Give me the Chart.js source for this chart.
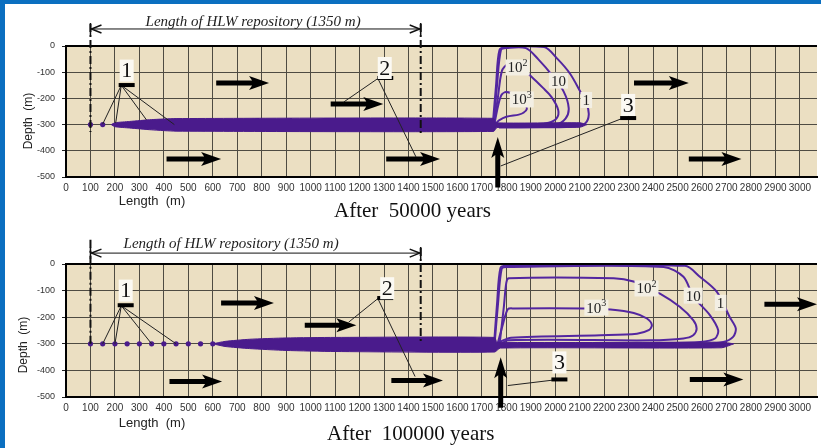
<!DOCTYPE html>
<html>
<head>
<meta charset="utf-8">
<script src="https://cdn.jsdelivr.net/npm/chart.js@4.4.0/dist/chart.umd.min.js"></script>
<style>
body{margin:0;background:#fff;width:821px;height:448px;overflow:hidden;position:relative}
canvas{position:absolute;left:0}
#c50{top:0}
#c100{top:222px}
.frameL{position:absolute;left:0;top:0;width:5px;height:448px;background:#0b6fc0;z-index:5}
.frameT{position:absolute;left:0;top:0;width:821px;height:4px;background:#0b6fc0;z-index:5}
.cap{position:absolute;font-family:"Liberation Serif",serif;font-size:21px;white-space:pre;color:#111;line-height:1}
.ax{position:absolute;font-family:"Liberation Sans",Arial,sans-serif;color:#222;white-space:pre;line-height:1}
</style>
</head>
<body>
<div class="frameL"></div><div class="frameT"></div>
<canvas id="c50" width="821" height="224"></canvas>
<canvas id="c100" width="821" height="226"></canvas>
<div class="cap" style="left:334px;top:200px">After  50000 years</div>
<div class="cap" style="left:327px;top:423px">After  100000 years</div>
<div class="ax" style="font-size:12px;left:28px;top:121px;transform:translate(-50%,-50%) rotate(-90deg)">Depth  (m)</div>
<div class="ax" style="font-size:12px;left:23px;top:345px;transform:translate(-50%,-50%) rotate(-90deg)">Depth  (m)</div>
<div class="ax" style="font-size:13px;left:152px;top:200px;transform:translate(-50%,-50%)">Length  (m)</div>
<div class="ax" style="font-size:13px;left:152px;top:422px;transform:translate(-50%,-50%)">Length  (m)</div>
<script>
// axis ticks
const lengthTicks = [0,100,200,300,400,500,600,700,800,900,1000,1100,1200,1300,1400,1500,
  1600,1700,1800,1900,2000,2100,2200,2300,2400,2500,2600,2700,2800,2900,3000];
const depthTicks = [0,-100,-200,-300,-400,-500];
const repoDepth = -300;
const repoStart = 100, repoEnd = 1450;

// ---- after 50000 years ----
const dots50 = [100,150];
const bandTop50 = [[185,-300],[200,-293],[260,-288],[350,-281],[450,-277],[1748,-276],[1756,-293],[2100,-293],[2130,-300]];
const bandBottom50 = [[185,-300],[200,-308],[260,-313],[350,-320],[450,-325],[1748,-326],[1762,-311],[2100,-310],[2130,-300]];
const c1_50 = [[1745,-295],[1758,-150],[1772,-15],[1800,-4],[1955,-4],[2010,-50],[2060,-105],[2100,-170],[2128,-220],[2137,-262],[2124,-294],[2085,-307],[1950,-310],[1770,-311]];
const c10_50 = [[1748,-295],[1762,-150],[1778,-15],[1800,-8],[1880,-8],[1930,-50],[1990,-115],[2035,-175],[2055,-237],[2042,-277],[2000,-301],[1900,-305],[1770,-306]];
const c100_50 = [[1750,-295],[1765,-200],[1782,-95],[1805,-72],[1860,-85],[1904,-118],[1950,-160],[1985,-195],[2012,-244],[2006,-275],[1973,-293],[1900,-299],[1770,-301]];
const c1000_50 = [[1752,-295],[1766,-230],[1780,-187],[1800,-176],[1840,-190],[1875,-220],[1884,-240],[1870,-255],[1851,-262],[1800,-270],[1770,-284],[1756,-297]];

// ---- after 100000 years ----
const dots100 = [100,150,200,250,300,350,400,450,500,550,600];
const bandTop100 = [[600,-300],[650,-291],[750,-283],[900,-278],[1100,-276],[1752,-276],[1762,-294],[2680,-294],[2730,-300]];
const bandBottom100 = [[600,-300],[650,-310],[750,-318],[900,-325],[1100,-329],[1752,-331],[1775,-316],[2680,-315],[2730,-300]];
const c1_100 = [[1750,-300],[1762,-150],[1776,-15],[1800,-7],[2530,-7],[2591,-48],[2660,-104],[2713,-199],[2738,-242],[2727,-274],[2687,-293],[2600,-300],[1780,-303]];
const c10_100 = [[1752,-300],[1766,-150],[1781,-18],[1800,-11],[2443,-11],[2524,-48],[2565,-123],[2632,-192],[2666,-249],[2653,-280],[2592,-293],[2450,-297],[1780,-300]];
const c100_100 = [[1772,-306],[1790,-160],[1800,-70],[1810,-54],[2239,-54],[2320,-66],[2373,-92],[2428,-111],[2509,-161],[2564,-211],[2578,-243],[2564,-268],[2524,-280],[2387,-287],[1806,-287],[1772,-306]];
const c1000_100 = [[1765,-298],[1785,-230],[1806,-170],[1830,-167],[2120,-167],[2226,-171],[2321,-184],[2375,-205],[2395,-230],[2382,-249],[2334,-262],[2185,-268],[1819,-277],[1772,-293]];

// annotations (axis units): flow arrows [xFrom, xTo, depth], up arrow [x, depthFrom, depthTo]
const flow50 = [[614,830,-141],[411,634,-431],[1082,1297,-221],[1309,1529,-431],[2322,2546,-141],[2546,2761,-431]];
const up50 = [1765,-540,-347];
const flow100 = [[634,850,-147],[423,638,-442],[976,1187,-230],[1330,1541,-438],[2855,3070,-151],[2550,2769,-434]];
const up100 = [1777,-540,-351];

const callouts50 = [
  {t:'1', at:[248,-94], bar:[248,-149], from:[226,-150], to:[[150,-298],[203,-294],[329,-282],[443,-300]]},
  {t:'2', at:[1303,-84], bar:[1305,-122], from:[1275,-124], to:[[1135,-214],[1431,-424]]},
  {t:'3', at:[2298,-225], bar:[2298,-275], from:[2275,-276], to:[[1777,-458]]}
];
const callouts100 = [
  {t:'1', at:[244,-100], bar:[244,-155], from:[226,-157], to:[[150,-300],[200,-300],[350,-300],[450,-300]]},
  {t:'2', at:[1313,-91], bar:[1305,-128], from:[1275,-130], to:[[1155,-219],[1427,-423]]},
  {t:'3', at:[2017,-370], bar:[2017,-434], from:[1995,-436], to:[[1806,-457]]}
];
const labels50 = [[1846,-82,'10','2'],[2013,-132,'10',''],[2127,-206,'1',''],[1863,-204,'10','3']];
const labels100 = [[2373,-92,'10','2'],[2564,-119,'10',''],[2676,-146,'1',''],[2168,-164,'10','3']];
// dimension line: depth of arrow, depth of text centre, text x, top of dash-dot lines, bottom of them
const dim50 = {y:65, ty:92, tx:765, top:[84,84], bottom:[-328,-332]};
const dim100 = {y:41, ty:75, tx:675, top:[91,60], bottom:[-300,-298]};

const BEIGE = '#ebdfc2', GRID = '#4e4b42', BAND = '#4a1b8c', LINE = '#5326a0';
Chart.defaults.font.family = '"Liberation Sans", Arial, sans-serif';

const xy = a => a.map(p => ({x: p[0], y: p[1]}));

function overlay(spec) {
  return {
    id: 'overlay',
    beforeDraw(c) {
      const a = c.chartArea, g = c.ctx;
      g.save(); g.fillStyle = BEIGE;
      g.fillRect(a.left, a.top, a.right - a.left, a.bottom - a.top);
      g.restore();
    },
    afterDraw(c) {
      const g = c.ctx, a = c.chartArea;
      const X = v => c.scales.x.getPixelForValue(v), Y = v => c.scales.y.getPixelForValue(v);
      g.save();
      // top border
      g.strokeStyle = '#000'; g.lineWidth = 2;
      g.beginPath(); g.moveTo(a.left, a.top); g.lineTo(a.right, a.top); g.stroke();

      // contour labels
      g.textBaseline = 'middle';
      spec.labels.forEach(([x, y, t, s]) => {
        g.font = '15px "Liberation Serif", serif';
        const w1 = g.measureText(t).width;
        g.font = '10px "Liberation Serif", serif';
        const w2 = s ? g.measureText(s).width : 0;
        const w = w1 + w2, cx = X(x), cy = Y(y);
        g.fillStyle = '#f3efe4';
        g.fillRect(cx - w / 2 - 2, cy - 8, w + 4, 16);
        g.fillStyle = '#222';
        g.font = '15px "Liberation Serif", serif';
        g.fillText(t, cx - w / 2, cy + 1);
        if (s) { g.font = '10px "Liberation Serif", serif'; g.fillText(s, cx - w / 2 + w1, cy - 4); }
      });

      // flow arrows
      g.fillStyle = '#000';
      spec.flow.forEach(([x0, x1, y]) => {
        const p0 = X(x0), p1 = X(x1), py = Y(y), h = p1 - 17;
        g.beginPath();
        g.moveTo(p0, py - 2.5); g.lineTo(h, py - 2.5); g.lineTo(h - 3, py - 7);
        g.lineTo(p1, py); g.lineTo(h - 3, py + 7); g.lineTo(h, py + 2.5); g.lineTo(p0, py + 2.5);
        g.closePath(); g.fill();
      });
      {
        const [x, y0, y1] = spec.up, px = X(x), b = Y(y0), t = Y(y1), h = t + 18;
        g.beginPath();
        g.moveTo(px - 2.5, b); g.lineTo(px - 2.5, h); g.lineTo(px - 6.5, h + 3);
        g.lineTo(px, t); g.lineTo(px + 6.5, h + 3); g.lineTo(px + 2.5, h); g.lineTo(px + 2.5, b);
        g.closePath(); g.fill();
      }

      // callouts
      spec.callouts.forEach(o => {
        g.strokeStyle = '#222'; g.lineWidth = 1;
        o.to.forEach(p => {
          g.beginPath(); g.moveTo(X(o.from[0]), Y(o.from[1])); g.lineTo(X(p[0]), Y(p[1])); g.stroke();
        });
        const bx = X(o.bar[0]), by = Y(o.bar[1]);
        g.fillStyle = '#000'; g.fillRect(bx - 8, by - 2, 16, 4);
        const tx = X(o.at[0]), ty = Y(o.at[1]);
        g.fillStyle = '#fbf9f3'; g.fillRect(tx - 7, ty - 11, 14, 22);
        g.fillStyle = '#111'; g.font = '22px "Liberation Serif", serif';
        g.textAlign = 'center'; g.fillText(o.t, tx, ty + 1);
        g.textAlign = 'left';
      });

      // repository length dimension
      const d = spec.dim, l = X(repoStart), r = X(repoEnd), dy = Y(d.y);
      g.strokeStyle = '#111'; g.lineWidth = 2; g.setLineDash([8, 3, 2, 3]);
      g.beginPath(); g.moveTo(l, Y(d.top[0])); g.lineTo(l, Y(d.bottom[0])); g.stroke();
      g.beginPath(); g.moveTo(r, Y(d.top[1])); g.lineTo(r, Y(d.bottom[1])); g.stroke();
      g.setLineDash([]); g.lineWidth = 1;
      g.beginPath(); g.moveTo(l, dy); g.lineTo(r, dy); g.stroke();
      g.lineWidth = 1.5;
      g.beginPath();
      g.moveTo(l + 11, dy - 4); g.lineTo(l + 1, dy); g.lineTo(l + 11, dy + 4);
      g.moveTo(r - 11, dy - 4); g.lineTo(r - 1, dy); g.lineTo(r - 11, dy + 4);
      g.moveTo(l, dy - 6); g.lineTo(l, dy + 6);
      g.moveTo(r, dy - 6); g.lineTo(r, dy + 6);
      g.stroke();
      g.fillStyle = '#222'; g.font = 'italic 15px "Liberation Serif", serif';
      g.textAlign = 'center'; g.textBaseline = 'middle';
      g.fillText('Length of HLW repository (1350 m)', X(d.tx), Y(d.ty));
      g.restore();
    }
  };
}

function makeChart(id, spec) {
  const datasets = [
    {data: xy(spec.bandTop), showLine: true, fill: '+1', backgroundColor: BAND, borderColor: BAND, borderWidth: 1, pointRadius: 0, tension: 0.2},
    {data: xy(spec.bandBottom), showLine: true, fill: false, borderColor: BAND, borderWidth: 1, pointRadius: 0, tension: 0.2},
    {data: spec.dots.map(x => ({x, y: repoDepth})), showLine: false, pointRadius: 2.6, pointBackgroundColor: BAND, pointBorderWidth: 0}
  ];
  spec.contours.forEach(cn => datasets.push({data: xy(cn), showLine: true, fill: false, borderColor: LINE, borderWidth: 2, pointRadius: 0, tension: 0.3}));
  return new Chart(document.getElementById(id), {
    type: 'scatter',
    data: {datasets},
    options: {
      responsive: false, animation: false, events: [],
      layout: {padding: {left: 0, right: 0, top: spec.padTop, bottom: spec.padBottom}},
      plugins: {legend: {display: false}, tooltip: {enabled: false}},
      scales: {
        x: {
          type: 'linear', min: 0, max: 3070,
          afterBuildTicks: s => { s.ticks = lengthTicks.map(v => ({value: v})); },
          afterFit: s => { s.height = 20; s.paddingLeft = 0; s.paddingRight = 0; },
          grid: {color: GRID, lineWidth: 1, drawTicks: false},
          border: {color: '#000', width: 2},
          ticks: {autoSkip: false, maxRotation: 0, padding: 5, color: '#333', font: {size: 10}, callback: v => String(v)}
        },
        y: {
          type: 'linear', min: -500, max: 0,
          afterBuildTicks: s => { s.ticks = depthTicks.map(v => ({value: v})); },
          afterFit: s => { s.width = 66; s.paddingTop = 0; s.paddingBottom = 0; },
          grid: {color: GRID, lineWidth: 1, drawTicks: true, tickLength: 4, tickColor: '#222'},
          border: {color: '#000', width: 2},
          ticks: {padding: 7, color: '#333', font: {size: 9}, callback: v => String(v)}
        }
      }
    },
    plugins: [overlay(spec)]
  });
}

makeChart('c50', {
  padTop: 46, padBottom: 27,
  dots: dots50, bandTop: bandTop50, bandBottom: bandBottom50,
  contours: [c1_50, c10_50, c100_50, c1000_50],
  flow: flow50, up: up50, callouts: callouts50, labels: labels50, dim: dim50
});
makeChart('c100', {
  padTop: 42, padBottom: 31,
  dots: dots100, bandTop: bandTop100, bandBottom: bandBottom100,
  contours: [c1_100, c10_100, c100_100, c1000_100],
  flow: flow100, up: up100, callouts: callouts100, labels: labels100, dim: dim100
});
</script>
</body>
</html>
